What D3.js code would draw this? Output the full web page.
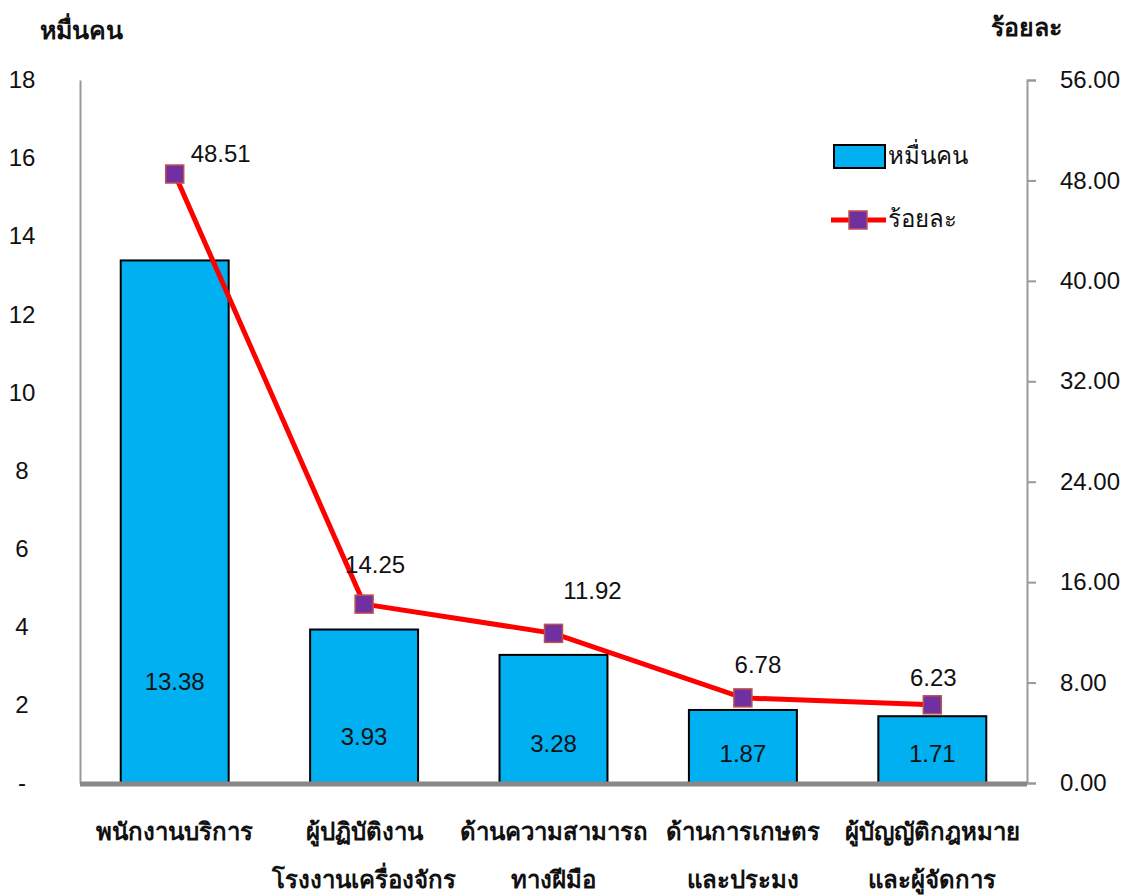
<!DOCTYPE html>
<html><head><meta charset="utf-8">
<script src="https://cdn.jsdelivr.net/npm/d3@7"></script>
<style>body{margin:0;background:#fff}svg{display:block}text{font-family:"Liberation Sans",sans-serif;fill:#111}</style>
</head><body><svg id="c" width="1131" height="896"></svg>
<script>
const categories = [["พนักงานบริการ"],["ผู้ปฏิบัติงาน","โรงงานเครื่องจักร"],["ด้านความสามารถ","ทางฝีมือ"],["ด้านการเกษตร","และประมง"],["ผู้บัญญัติกฎหมาย","และผู้จัดการ"]];
const persons = [13.38, 3.93, 3.28, 1.87, 1.71];
const percent = [48.51, 14.25, 11.92, 6.78, 6.23];
const leftTicks = [0,2,4,6,8,10,12,14,16,18];
const rightTicks = [0,8,16,24,32,40,48,56];
const barLabelAt = [2.6, 1.2, 1.0, 0.75, 0.75];           // label height, left-axis units
const lineLabelOffset = [[46,-20],[11,-40],[39,-43],[15,-33],[1,-27]]; // px

const NUM = 24, THAI = 24, TITLE = 25;
const svg = d3.select("#c");
const L=80, R=1027, T=80, B=783;
const x = d3.scaleBand().domain(d3.range(5)).range([L,R]).paddingInner(0.43).paddingOuter(0.215);
const yL = d3.scaleLinear().domain([0,18]).range([B,T]);
const yR = d3.scaleLinear().domain([0,56]).range([B,T]);
const cx = i => x(i)+x.bandwidth()/2;

// left axis
const la = svg.append("g").attr("transform",`translate(${L},0)`)
  .call(d3.axisLeft(yL).tickValues(leftTicks).tickSize(0).tickFormat(d=>d===0?"-":d));
la.select(".domain").attr("stroke","#999").attr("stroke-width",2);
la.selectAll("text").attr("font-size",NUM).attr("text-anchor","middle").attr("x",-58);
// right axis
const ra = svg.append("g").attr("transform",`translate(${R},0)`)
  .call(d3.axisRight(yR).tickValues(rightTicks).tickSize(9).tickPadding(24).tickFormat(d3.format(".2f")));
ra.select(".domain").attr("stroke","#999").attr("stroke-width",2);
ra.selectAll(".tick line").attr("stroke","#999").attr("stroke-width",2);
ra.selectAll("text").attr("font-size",NUM);

// bars
svg.append("g").selectAll("rect").data(persons).join("rect")
  .attr("x",(d,i)=>x(i)).attr("width",x.bandwidth())
  .attr("y",d=>yL(d)).attr("height",d=>B-yL(d))
  .attr("fill","#00B0F0").attr("stroke","#000").attr("stroke-width",2);
svg.append("g").selectAll("text").data(persons).join("text")
  .attr("x",(d,i)=>cx(i)).attr("y",(d,i)=>yL(barLabelAt[i])).attr("dy","0.35em")
  .attr("text-anchor","middle").attr("font-size",NUM).text(d=>d.toFixed(2));

// baseline
svg.append("line").attr("x1",L).attr("x2",R).attr("y1",B+1).attr("y2",B+1).attr("stroke","#888").attr("stroke-width",5);

// line
const line = d3.line().x((d,i)=>cx(i)).y(d=>yR(d));
svg.append("path").datum(percent).attr("d",line).attr("fill","none").attr("stroke","#FF0000").attr("stroke-width",5);
svg.append("g").selectAll("rect").data(percent).join("rect")
  .attr("x",(d,i)=>cx(i)-9).attr("y",d=>yR(d)-9).attr("width",18).attr("height",18)
  .attr("fill","#7030A0").attr("stroke","#C0504D").attr("stroke-width",1.5);
svg.append("g").selectAll("text").data(percent).join("text")
  .attr("x",(d,i)=>cx(i)+lineLabelOffset[i][0]).attr("y",(d,i)=>yR(d)+lineLabelOffset[i][1]).attr("dy","0.35em")
  .attr("text-anchor","middle").attr("font-size",NUM).text(d=>d.toFixed(2));

// category labels
const cl = svg.append("g").selectAll("text").data(categories).join("text")
  .attr("x",(d,i)=>cx(i)).attr("y",840).attr("text-anchor","middle").attr("font-size",THAI).attr("font-weight","bold");
cl.selectAll("tspan").data(d=>d).join("tspan").attr("x",function(){return this.parentNode.getAttribute("x");})
  .attr("dy",(d,j)=>j===0?0:48).text(d=>d);

// axis titles
svg.append("text").attr("x",81).attr("y",39).attr("text-anchor","middle").attr("font-size",TITLE).attr("font-weight","bold").text("หมื่นคน");
svg.append("text").attr("x",1026).attr("y",36).attr("text-anchor","middle").attr("font-size",TITLE).attr("font-weight","bold").text("ร้อยละ");

// legend
const lg = svg.append("g");
lg.append("rect").attr("x",834).attr("y",145).attr("width",51).attr("height",23).attr("fill","#00B0F0").attr("stroke","#000").attr("stroke-width",2);
lg.append("text").attr("x",888).attr("y",156).attr("dy","0.35em").attr("font-size",THAI).text("หมื่นคน");
lg.append("line").attr("x1",831).attr("x2",886).attr("y1",220).attr("y2",220).attr("stroke","#FF0000").attr("stroke-width",5);
lg.append("rect").attr("x",849).attr("y",211).attr("width",18).attr("height",18).attr("fill","#7030A0").attr("stroke","#C0504D").attr("stroke-width",1.5);
lg.append("text").attr("x",888).attr("y",219).attr("dy","0.35em").attr("font-size",THAI).text("ร้อยละ");
</script></body></html>
